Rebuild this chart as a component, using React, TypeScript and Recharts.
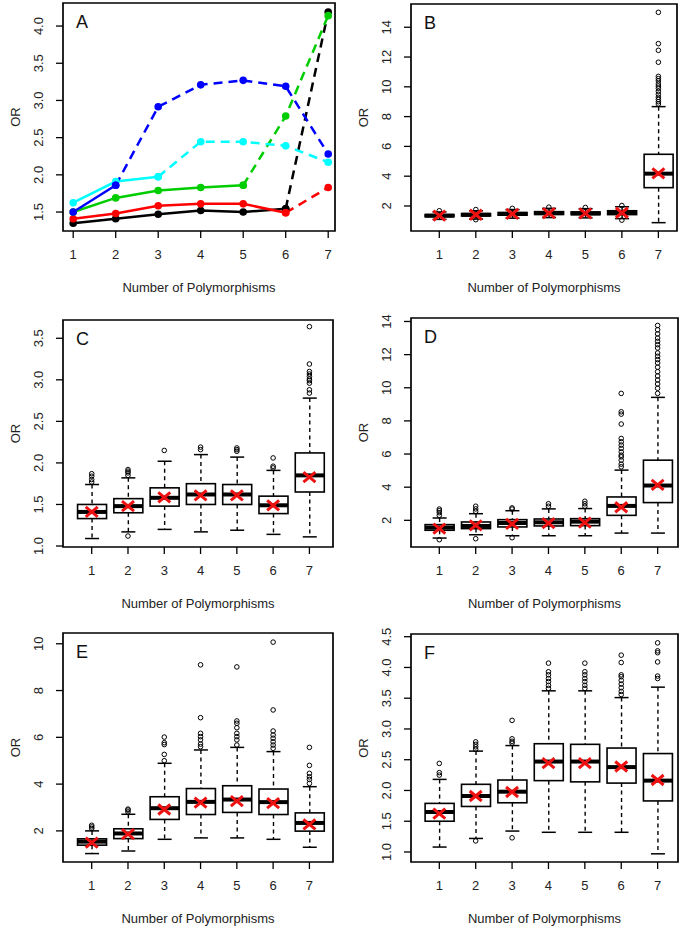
import React from 'react';
import { ComposedChart, Line, Bar, Scatter, XAxis, YAxis, ReferenceArea, Label } from 'recharts';

const FONT = '"Liberation Sans", Arial, Helvetica, sans-serif';

// number of polymorphisms (x categories)
const positions = [1, 2, 3, 4, 5, 6, 7];

// Panel A: OR per model
const orBlack = [1.35, 1.41, 1.47, 1.52, 1.5, 1.545, 4.19];
const orRed = [1.41, 1.48, 1.585, 1.61, 1.61, 1.49, 1.83];
const orGreen = [1.5, 1.69, 1.79, 1.83, 1.86, 2.79, 4.14];
const orCyan = [1.625, 1.91, 1.975, 2.445, 2.445, 2.39, 2.17];
const orBlue = [1.5, 1.86, 2.915, 3.21, 3.27, 3.19, 2.28];
// last x drawn with a solid line, dashed afterwards
const solidEnd = { black: 6, red: 6, green: 5, cyan: 3, blue: 2 };

// boxplot stats: [low whisker, Q1, median, Q3, high whisker]
const statsB = [
  [1.1, 1.28, 1.35, 1.42, 1.6],
  [1.12, 1.33, 1.41, 1.49, 1.68],
  [1.18, 1.38, 1.47, 1.56, 1.76],
  [1.22, 1.43, 1.52, 1.62, 1.84],
  [1.2, 1.42, 1.5, 1.6, 1.82],
  [1.15, 1.42, 1.54, 1.68, 1.95],
  [0.88, 3.23, 4.17, 5.47, 8.67],
];
const outliersB = [
  [1.68],
  [1.76, 1.08],
  [1.84],
  [1.92],
  [1.9],
  [2.03, 1.05],
  [15.0, 12.9, 12.45, 11.65, 10.7, 10.55, 10.4, 10.2, 10.05, 9.9, 9.7, 9.5, 9.3, 9.15, 9.0, 8.85],
];

const statsC = [
  [1.09, 1.33, 1.41, 1.5, 1.74],
  [1.17, 1.4, 1.48, 1.57, 1.82],
  [1.2, 1.48, 1.58, 1.7, 2.02],
  [1.17, 1.5, 1.62, 1.75, 2.1],
  [1.19, 1.5, 1.62, 1.74, 2.07],
  [1.14, 1.39, 1.49, 1.6, 1.91],
  [1.11, 1.65, 1.85, 2.12, 2.78],
];
const outliersC = [
  [1.77, 1.8, 1.84, 1.87],
  [1.12, 1.85, 1.88, 1.9, 1.92],
  [2.15],
  [2.16, 2.19],
  [2.14, 2.16, 2.18],
  [1.94, 1.96, 2.06],
  [2.84, 2.88, 2.96, 2.99, 3.01, 3.04, 3.07, 3.1, 3.19, 3.64],
];

const statsD = [
  [0.93, 1.4, 1.56, 1.74, 2.14],
  [1.13, 1.5, 1.66, 1.9, 2.4],
  [1.07, 1.6, 1.84, 2.04, 2.58],
  [1.07, 1.66, 1.88, 2.08, 2.69],
  [1.07, 1.68, 1.92, 2.1, 2.71],
  [1.23, 2.3, 2.87, 3.41, 5.03],
  [1.23, 3.07, 4.1, 5.63, 9.42],
];
const outliersD = [
  [0.83, 2.3, 2.46, 2.58, 2.68],
  [0.89, 2.54, 2.69, 2.85],
  [0.95, 2.68, 2.75],
  [2.85, 3.0],
  [2.85, 3.0, 3.15],
  [5.23, 5.39, 5.63, 5.83, 5.93, 6.13, 6.34, 6.54, 6.74, 6.94, 7.81, 8.41, 8.55, 9.66],
  [9.66, 9.97, 10.23, 10.47, 10.71, 10.97, 11.24, 11.5, 11.7, 11.9, 12.1, 12.4, 12.6, 12.8, 13.0, 13.25, 13.5, 13.76],
];

const statsE = [
  [1.03, 1.39, 1.54, 1.66, 2.0],
  [1.14, 1.67, 1.89, 2.09, 2.71],
  [1.64, 2.49, 2.97, 3.46, 4.89],
  [1.7, 2.7, 3.24, 3.81, 5.46],
  [1.7, 2.79, 3.34, 3.93, 5.57],
  [1.64, 2.7, 3.23, 3.79, 5.39],
  [1.3, 1.99, 2.34, 2.77, 3.89],
];
const outliersE = [
  [2.1, 2.17, 2.24],
  [2.81, 2.89, 2.93],
  [5.0, 5.27, 5.69, 5.77, 6.01],
  [5.6, 5.71, 5.89, 6.03, 6.17, 6.84, 9.1],
  [5.67, 5.89, 6.03, 6.17, 6.41, 6.6, 6.7, 9.01],
  [5.53, 5.67, 5.81, 5.96, 6.1, 6.27, 7.17, 10.07],
  [4.03, 4.2, 4.31, 4.46, 4.8, 5.57],
];

const statsF = [
  [1.08, 1.5, 1.65, 1.79, 2.18],
  [1.22, 1.74, 1.91, 2.1, 2.64],
  [1.34, 1.8, 1.98, 2.17, 2.73],
  [1.32, 2.16, 2.47, 2.76, 3.62],
  [1.32, 2.14, 2.47, 2.75, 3.62],
  [1.32, 2.12, 2.38, 2.69, 3.51],
  [0.97, 1.83, 2.16, 2.6, 3.68],
];
const outliersF = [
  [2.25, 2.29, 2.44],
  [1.18, 2.67, 2.71, 2.75, 2.79],
  [1.23, 2.77, 2.8, 2.84, 3.14],
  [3.66, 3.71, 3.77, 3.82, 3.88, 3.93, 4.07],
  [3.66, 3.71, 3.77, 3.82, 3.88, 3.93, 4.07],
  [3.56, 3.61, 3.67, 3.73, 3.79, 3.85, 3.88, 4.08, 4.2],
  [3.82, 3.86, 4.09, 4.24, 4.27, 4.4],
];

const ticksA = [1.5, 2.0, 2.5, 3.0, 3.5, 4.0];
const ticksB = [2, 4, 6, 8, 10, 12, 14];
const ticksC = [1.0, 1.5, 2.0, 2.5, 3.0, 3.5];
const ticksD = [2, 4, 6, 8, 10, 12, 14];
const ticksE = [2, 4, 6, 8, 10];
const ticksF = [1.0, 1.5, 2.0, 2.5, 3.0, 3.5, 4.0, 4.5];

const COLORS = { black: '#000000', red: '#ff0000', green: '#00cd00', cyan: '#00ffff', blue: '#0000ff' };
const MEAN_RED = '#ee1111';

const XTick = (p: any) => (
  <text x={p.x} y={p.y} dy="0.72em" textAnchor="middle" fontSize={13} fontFamily={FONT} fill="#222">
    {p.payload.value}
  </text>
);

const makeYTick = (dec: number) => (p: any) => (
  <text
    x={p.x}
    y={p.y}
    dy="0.35em"
    transform={`rotate(-90 ${p.x} ${p.y})`}
    textAnchor="middle"
    fontSize={13}
    fontFamily={FONT}
    fill="#222"
  >
    {Number(p.payload.value).toFixed(dec)}
  </text>
);

const XTitle = (p: any) => {
  const vb = p.viewBox;
  return (
    <text x={vb.x + vb.width / 2} y={vb.y + 56} dy="0.35em" textAnchor="middle" fontSize={13} fontFamily={FONT} fill="#222">
      Number of Polymorphisms
    </text>
  );
};

const YTitle = (p: any) => {
  const vb = p.viewBox;
  const x = vb.x + vb.width - 48;
  const y = vb.y + vb.height / 2;
  return (
    <text x={x} y={y} dy="0.35em" transform={`rotate(-90 ${x} ${y})`} textAnchor="middle" fontSize={13} fontFamily={FONT} fill="#222">
      OR
    </text>
  );
};

const makeLetter = (letter: string) => (p: any) => {
  const vb = p.viewBox;
  return (
    <text x={vb.x + 13} y={vb.y + 25} fontSize={18} fontFamily={FONT} fill="#111">
      {letter}
    </text>
  );
};

type Geo = {
  left: number;
  top: number;
  w: number;
  h: number;
  plotLeft: number;
  plotRight: number;
  plotTop: number;
  plotBottom: number;
  xDomain: [number, number];
  yDomain: [number, number];
  yTicks: number[];
  dec: number;
  letter: string;
};

const frame = (g: Geo) => [
  <XAxis
    key="x"
    type="number"
    dataKey="x"
    domain={g.xDomain}
    ticks={positions}
    allowDataOverflow
    interval={0}
    axisLine={false}
    tickSize={7}
    tickMargin={12}
    tickLine={{ stroke: '#000', strokeWidth: 1.3 }}
    height={g.h - g.plotBottom}
    tick={XTick}
  >
    <Label content={XTitle} />
  </XAxis>,
  <YAxis
    key="y"
    type="number"
    domain={g.yDomain}
    ticks={g.yTicks}
    allowDataOverflow
    interval={0}
    axisLine={false}
    tickSize={7}
    tickMargin={18}
    tickLine={{ stroke: '#000', strokeWidth: 1.3 }}
    width={g.plotLeft}
    tick={makeYTick(g.dec)}
  >
    <Label content={YTitle} />
  </YAxis>,
  <ReferenceArea
    key="box"
    x1={g.xDomain[0]}
    x2={g.xDomain[1]}
    y1={g.yDomain[0]}
    y2={g.yDomain[1]}
    fill="none"
    fillOpacity={0}
    stroke="#000"
    strokeWidth={1.7}
  >
    <Label content={makeLetter(g.letter)} />
  </ReferenceArea>,
];

const chartMargin = (g: Geo) => ({ top: g.plotTop, right: g.w - g.plotRight, bottom: 0, left: 0 });

// ---------- Panel A ----------
const lineSeries = [
  { key: 'black', vals: orBlack, end: solidEnd.black },
  { key: 'red', vals: orRed, end: solidEnd.red },
  { key: 'green', vals: orGreen, end: solidEnd.green },
  { key: 'cyan', vals: orCyan, end: solidEnd.cyan },
  { key: 'blue', vals: orBlue, end: solidEnd.blue },
];

const lineRows = positions.map((x, i) => {
  const row: any = { x };
  lineSeries.forEach((s) => {
    row[s.key + 'S'] = x <= s.end ? s.vals[i] : null;
    row[s.key + 'D'] = x >= s.end ? s.vals[i] : null;
  });
  return row;
});

const PanelA = ({ g }: { g: Geo }) => (
  <ComposedChart width={g.w} height={g.h} data={lineRows} margin={chartMargin(g)}>
    {frame(g)}
    {lineSeries.map((s) => {
      const c = (COLORS as any)[s.key];
      const dot = { r: 3.8, fill: c, stroke: c, strokeWidth: 0 };
      return [
        <Line
          key={s.key + 'D'}
          type="linear"
          dataKey={s.key + 'D'}
          stroke={c}
          strokeWidth={2.5}
          strokeDasharray="9 6"
          dot={dot}
          activeDot={false}
          connectNulls={false}
          isAnimationActive={false}
        />,
        <Line
          key={s.key + 'S'}
          type="linear"
          dataKey={s.key + 'S'}
          stroke={c}
          strokeWidth={2.5}
          dot={dot}
          activeDot={false}
          connectNulls={false}
          isAnimationActive={false}
        />,
      ];
    })}
  </ComposedChart>
);

// ---------- Boxplot panels ----------
const BoxShape = (p: any) => {
  const { x, y, width, height, payload } = p;
  if (!payload || height == null) return null;
  const [lo, q1, med, q3, hi] = payload.stats;
  const top = Math.min(y, y + height);
  const h = Math.abs(height);
  const py = (v: number) => top + ((hi - v) / (hi - lo)) * h;
  const cx = x + width / 2;
  const cap = 7;
  return (
    <g>
      <line x1={cx} x2={cx} y1={py(hi)} y2={py(q3)} stroke="#000" strokeWidth={1.4} strokeDasharray="4 3.5" />
      <line x1={cx} x2={cx} y1={py(q1)} y2={py(lo)} stroke="#000" strokeWidth={1.4} strokeDasharray="4 3.5" />
      <line x1={cx - cap} x2={cx + cap} y1={py(hi)} y2={py(hi)} stroke="#000" strokeWidth={1.5} />
      <line x1={cx - cap} x2={cx + cap} y1={py(lo)} y2={py(lo)} stroke="#000" strokeWidth={1.5} />
      <rect x={x} y={py(q3)} width={width} height={py(q1) - py(q3)} fill="#fff" stroke="#000" strokeWidth={1.6} />
      <line x1={x} x2={x + width} y1={py(med)} y2={py(med)} stroke="#000" strokeWidth={4} />
    </g>
  );
};

const Outlier = (p: any) =>
  p.cx == null ? null : <circle cx={p.cx} cy={p.cy} r={2.3} fill="none" stroke="#000" strokeWidth={1} />;

const MeanX = (p: any) =>
  p.cx == null ? null : (
    <g stroke={MEAN_RED} strokeWidth={3}>
      <line x1={p.cx - 6} y1={p.cy - 5} x2={p.cx + 6} y2={p.cy + 5} />
      <line x1={p.cx - 6} y1={p.cy + 5} x2={p.cx + 6} y2={p.cy - 5} />
    </g>
  );

const BoxPanel = ({ g, stats, outliers, means }: { g: Geo; stats: number[][]; outliers: number[][]; means: number[] }) => {
  const rows = positions.map((x, i) => ({
    x,
    range: [stats[i][0], stats[i][4]],
    stats: stats[i],
    mean: means[i],
  }));
  const outRows = positions.flatMap((x, i) => outliers[i].map((y) => ({ x, y })));
  return (
    <ComposedChart width={g.w} height={g.h} data={rows} margin={chartMargin(g)}>
      {frame(g)}
      <Bar dataKey="range" barSize={29} shape={BoxShape} isAnimationActive={false} />
      <Scatter data={outRows} dataKey="y" shape={Outlier} isAnimationActive={false} />
      <Scatter data={rows} dataKey="mean" shape={MeanX} isAnimationActive={false} />
    </ComposedChart>
  );
};

const geoA: Geo = { left: 0, top: 0, w: 345, h: 310, plotLeft: 63, plotRight: 335, plotTop: 3, plotBottom: 231, xDomain: [0.76, 7.16], yDomain: [1.245, 4.31], yTicks: ticksA, dec: 1, letter: 'A' };
const geoB: Geo = { left: 345, top: 0, w: 345, h: 310, plotLeft: 66, plotRight: 332, plotTop: 4, plotBottom: 231, xDomain: [0.225, 7.51], yDomain: [0.32, 15.56], yTicks: ticksB, dec: 0, letter: 'B' };
const geoC: Geo = { left: 0, top: 310, w: 345, h: 310, plotLeft: 63, plotRight: 333, plotTop: 10, plotBottom: 237, xDomain: [0.209, 7.65], yDomain: [0.988, 3.72], yTicks: ticksC, dec: 1, letter: 'C' };
const geoD: Geo = { left: 345, top: 310, w: 345, h: 310, plotLeft: 66, plotRight: 333, plotTop: 8, plotBottom: 237, xDomain: [0.222, 7.56], yDomain: [0.39, 14.21], yTicks: ticksD, dec: 0, letter: 'D' };
const geoE: Geo = { left: 0, top: 620, w: 345, h: 308, plotLeft: 63, plotRight: 333, plotTop: 13, plotBottom: 242, xDomain: [0.209, 7.65], yDomain: [0.67, 10.46], yTicks: ticksE, dec: 0, letter: 'E' };
const geoF: Geo = { left: 345, top: 620, w: 345, h: 308, plotLeft: 66, plotRight: 333, plotTop: 14, plotBottom: 242, xDomain: [0.222, 7.56], yDomain: [0.837, 4.544], yTicks: ticksF, dec: 1, letter: 'F' };

const Cell = ({ g, children }: { g: Geo; children: React.ReactNode }) => (
  <div style={{ position: 'absolute', left: g.left, top: g.top, width: g.w, height: g.h }}>{children}</div>
);

export default function App() {
  return (
    <div style={{ position: 'absolute', left: 0, top: 0, width: 690, height: 928, background: '#fff', fontFamily: FONT }}>
      <Cell g={geoA}>
        <PanelA g={geoA} />
      </Cell>
      <Cell g={geoB}>
        <BoxPanel g={geoB} stats={statsB} outliers={outliersB} means={orBlack} />
      </Cell>
      <Cell g={geoC}>
        <BoxPanel g={geoC} stats={statsC} outliers={outliersC} means={orRed} />
      </Cell>
      <Cell g={geoD}>
        <BoxPanel g={geoD} stats={statsD} outliers={outliersD} means={orGreen} />
      </Cell>
      <Cell g={geoE}>
        <BoxPanel g={geoE} stats={statsE} outliers={outliersE} means={orBlue} />
      </Cell>
      <Cell g={geoF}>
        <BoxPanel g={geoF} stats={statsF} outliers={outliersF} means={orCyan} />
      </Cell>
    </div>
  );
}
